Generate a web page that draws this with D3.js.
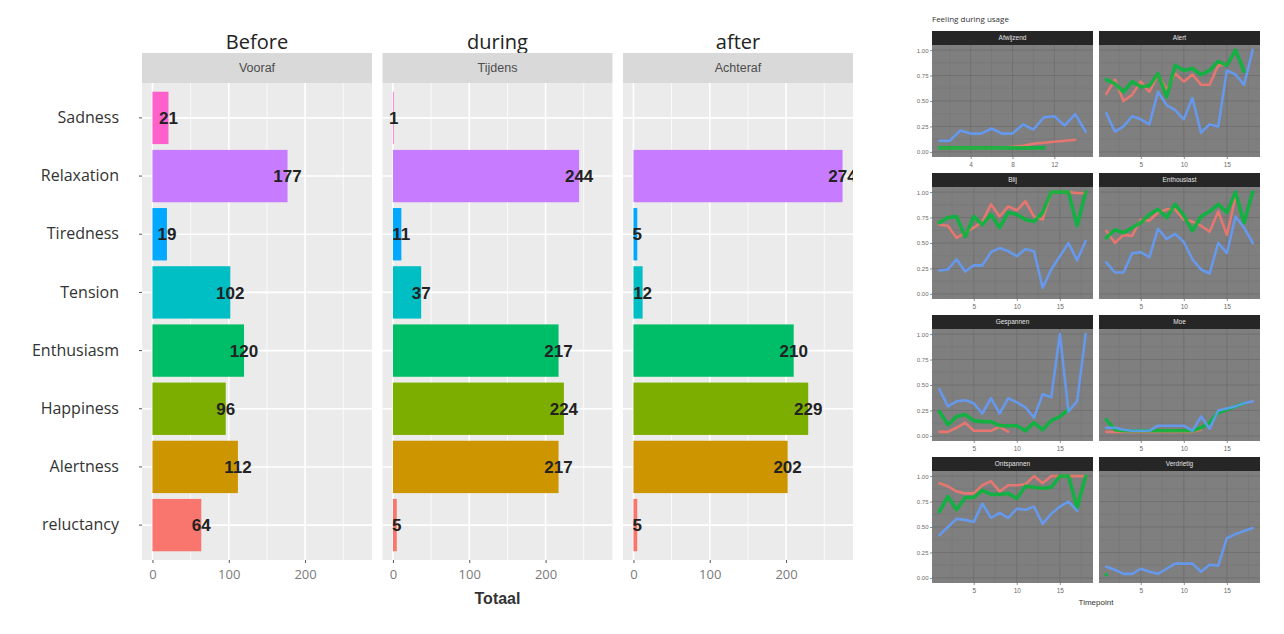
<!DOCTYPE html>
<html><head><meta charset="utf-8">
<script src="https://cdn.jsdelivr.net/npm/d3@7"></script>
<style>body{margin:0;background:#fff;} svg{display:block}</style>
</head><body>
<svg id="c" width="1284" height="634"></svg>
<script>
// ---------- Left chart data ----------
const categories = ["Sadness","Relaxation","Tiredness","Tension","Enthusiasm","Happiness","Alertness","reluctancy"];
const categoryColors = ["#FF61CC","#C77CFF","#00A9FF","#00BFC4","#00BE67","#7CAE00","#CD9600","#F8766D"];
const facetNames = ["Vooraf","Tijdens","Achteraf"];
const facetTitles = ["Before","during","after"];
const voorafCounts = [21,177,19,102,120,96,112,64];
const tijdensCounts = [1,244,11,37,217,224,217,5];
const achterafCounts = [null,274,5,12,210,229,202,5];
const countTicks = [0,100,200];
const countMinorTicks = [50,150,250];
const countAxisTitle = "Totaal";

// ---------- Right chart data ----------
const smallTitle = "Feeling during usage";
const timeAxisTitle = "Timepoint";
const feelingPanels = ["Afwijzend","Alert","Blij","Enthousiast","Gespannen","Moe","Ontspannen","Verdrietig"];
const lineSeries = ["Achteraf","Tijdens","Vooraf"];
const lineColors = ["#F8766D","#00BA38","#619CFF"];
const shareTicks = [0,0.25,0.5,0.75,1];
const shareTickLabels = ["0.00","0.25","0.50","0.75","1.00"];

const afwijzendRed   = [0.04,0.04,0.04,0.04,0.04,0.04,0.04,0.05,0.06,0.08,0.09,0.10,0.11,0.12];
const afwijzendGreen = [0.04,0.04,0.04,0.04,0.04,0.04,0.04,0.04,0.04,0.04,0.04];
const afwijzendBlue  = [0.11,0.11,0.21,0.18,0.18,0.23,0.18,0.18,0.27,0.22,0.34,0.35,0.26,0.37,0.20];

const alertRed   = [0.57,0.71,0.50,0.56,0.69,0.59,0.76,0.61,0.77,0.69,0.76,0.66,0.66,0.85,0.86];
const alertGreen = [0.71,0.67,0.59,0.69,0.64,0.65,0.77,0.54,0.85,0.80,0.82,0.76,0.80,0.89,0.85,1.00,0.79];
const alertBlue  = [0.38,0.20,0.25,0.35,0.32,0.27,0.59,0.46,0.41,0.32,0.53,0.19,0.27,0.25,0.80,0.76,0.66,1.00];

const blijRed   = [0.68,0.67,0.55,0.60,0.65,0.71,0.88,0.76,0.86,0.82,0.91,0.76,0.73,1.00,1.00,1.00,0.99,0.99];
const blijGreen = [0.70,0.75,0.76,0.56,0.76,0.68,0.78,0.65,0.80,0.78,0.73,0.71,0.80,1.00,1.00,1.00,0.67,1.00];
const blijBlue  = [0.23,0.24,0.34,0.22,0.28,0.28,0.41,0.45,0.42,0.37,0.44,0.42,0.06,0.24,0.37,0.50,0.33,0.52];

const enthousiastRed   = [0.62,0.50,0.58,0.57,0.73,0.72,0.80,0.83,0.83,0.73,0.71,0.67,0.61,0.81,0.58,0.95];
const enthousiastGreen = [0.55,0.63,0.60,0.65,0.70,0.78,0.83,0.75,0.88,0.77,0.62,0.76,0.81,0.88,0.80,1.00,0.70,1.00];
const enthousiastBlue  = [0.31,0.21,0.21,0.40,0.41,0.36,0.64,0.54,0.59,0.51,0.34,0.24,0.20,0.50,0.40,0.76,0.65,0.50];

const gespannenRed   = [0.04,0.04,0.08,0.13,0.05,0.05,0.05,0.09,0.04];
const gespannenGreen = [0.24,0.11,0.19,0.21,0.15,0.14,0.14,0.10,0.10,0.10,0.05,0.13,0.06,0.15,0.19,0.26];
const gespannenBlue  = [0.46,0.29,0.34,0.35,0.32,0.22,0.37,0.22,0.37,0.33,0.28,0.18,0.41,0.38,1.00,0.24,0.34,1.00];

const moeRed   = [0.04,0.04,0.04,0.04,0.04,0.04,0.04,0.04,0.04,0.04,0.04,0.06];
const moeGreen = [0.16,0.06,0.05,0.05,0.05,0.05,0.05,0.05,0.05,0.05,0.05,0.08,0.13,0.23,0.26,0.29,0.32];
const moeBlue  = [0.08,0.08,0.06,0.05,0.05,0.05,0.10,0.10,0.10,0.10,0.05,0.19,0.07,0.25,0.27,0.29,0.32,0.34];

const ontspannenRed   = [0.93,0.90,0.85,0.83,0.83,0.91,0.95,0.85,0.91,0.91,0.92,1.00,0.93,1.00,1.00,1.00,1.00,1.00];
const ontspannenGreen = [0.65,0.80,0.67,0.79,0.79,0.86,0.82,0.82,0.83,0.78,0.90,0.89,0.88,0.89,1.00,1.00,0.69,1.00];
const ontspannenBlue  = [0.42,0.50,0.58,0.57,0.55,0.73,0.59,0.64,0.59,0.68,0.67,0.70,0.53,0.63,0.70,0.75,0.66];

const verdrietigRed   = [];
const verdrietigGreen = [0.03];
const verdrietigBlue  = [0.11,0.08,0.04,0.04,0.09,0.06,0.04,0.09,0.14,0.14,0.14,0.06,0.13,0.12,0.39,0.43,0.46,0.49];

const panelSeries = [
  [afwijzendRed, afwijzendGreen, afwijzendBlue],
  [alertRed, alertGreen, alertBlue],
  [blijRed, blijGreen, blijBlue],
  [enthousiastRed, enthousiastGreen, enthousiastBlue],
  [gespannenRed, gespannenGreen, gespannenBlue],
  [moeRed, moeGreen, moeBlue],
  [ontspannenRed, ontspannenGreen, ontspannenBlue],
  [verdrietigRed, verdrietigGreen, verdrietigBlue]
];
const panelTimeTicks = [[4,8,12],[5,10,15],[5,10,15],[5,10,15],[5,10,15],[5,10,15],[5,10,15],[5,10,15]];

// ---------- Drawing ----------
const svg = d3.select("#c");
const facetCounts = [voorafCounts, tijdensCounts, achterafCounts];

// Left chart layout
const L = {left:142, top:83, bottom:560, width:230, gap:10.5, stripH:30};
const maxCount = d3.max(facetCounts.flat());
const pad = maxCount*0.05;
const x = d3.scaleLinear().domain([-pad, maxCount+pad]).range([0, L.width]);
const y = d3.scaleBand().domain(categories).range([L.top, L.bottom]).paddingInner(0.1).paddingOuter(0.15);

const defs = svg.append("defs");

facetNames.forEach((fname, fi) => {
  const px = L.left + fi*(L.width+L.gap);
  const g = svg.append("g").attr("transform", `translate(${px},0)`);
  defs.append("clipPath").attr("id","clip"+fi).append("rect")
    .attr("x",0).attr("y",L.top).attr("width",L.width).attr("height",L.bottom-L.top);
  g.append("text").attr("x",L.width/2).attr("y",49).attr("text-anchor","middle")
    .attr("font-family","Open Sans, sans-serif").attr("font-size",20).attr("fill","#222").text(facetTitles[fi]);
  g.append("rect").attr("x",0).attr("y",L.top-L.stripH).attr("width",L.width).attr("height",L.stripH).attr("fill","#D9D9D9");
  g.append("text").attr("x",L.width/2).attr("y",L.top-L.stripH/2).attr("dy","0.35em").attr("text-anchor","middle")
    .attr("font-family","Liberation Sans, Arial, sans-serif").attr("font-size",12.5).attr("fill","#4d4d4d").text(fname);
  g.append("rect").attr("x",0).attr("y",L.top).attr("width",L.width).attr("height",L.bottom-L.top).attr("fill","#EBEBEB");
  const pg = g.append("g").attr("clip-path",`url(#clip${fi})`);
  countMinorTicks.forEach(t => pg.append("line").attr("x1",x(t)).attr("x2",x(t)).attr("y1",L.top).attr("y2",L.bottom).attr("stroke","#fff").attr("stroke-width",0.8));
  countTicks.forEach(t => pg.append("line").attr("x1",x(t)).attr("x2",x(t)).attr("y1",L.top).attr("y2",L.bottom).attr("stroke","#fff").attr("stroke-width",1.6));
  categories.forEach(c => pg.append("line").attr("x1",0).attr("x2",L.width).attr("y1",y(c)+y.bandwidth()/2).attr("y2",y(c)+y.bandwidth()/2).attr("stroke","#fff").attr("stroke-width",1.6));
  const vals = facetCounts[fi];
  categories.forEach((c, ci) => {
    const v = vals[ci];
    if (v == null) return;
    pg.append("rect").attr("x",x(0)).attr("y",y(c)).attr("width",Math.max(0.6, x(v)-x(0))).attr("height",y.bandwidth()).attr("fill",categoryColors[ci]);
  });
  categories.forEach((c, ci) => {
    const v = vals[ci];
    if (v == null) return;
    pg.append("text").attr("x",x(v)).attr("y",y(c)+y.bandwidth()/2).attr("dy","0.36em").attr("text-anchor","middle")
      .attr("font-family","Liberation Sans, Arial, sans-serif").attr("font-size",17).attr("fill","#222").attr("font-weight","bold").text(v);
  });
  const ax = g.append("g").attr("transform",`translate(0,${L.bottom})`)
    .call(d3.axisBottom(x).tickValues(countTicks).tickSize(3).tickPadding(7));
  ax.select(".domain").remove();
  ax.selectAll("line").attr("stroke","#555");
  ax.selectAll("text").attr("font-family","Open Sans, sans-serif").attr("font-size",13).attr("fill","#7a7a7a");
});

const ay = svg.append("g").attr("transform",`translate(${L.left},0)`)
  .call(d3.axisLeft(y).tickSize(3).tickPadding(20));
ay.select(".domain").remove();
ay.selectAll("line").attr("stroke","#555");
ay.selectAll("text").attr("font-family","Open Sans, sans-serif").attr("font-size",16).attr("fill","#333");

svg.append("text").attr("x",L.left + 1.5*L.width + L.gap).attr("y",604).attr("text-anchor","middle")
  .attr("font-family","Liberation Sans, Arial, sans-serif").attr("font-size",16).attr("font-weight","bold").attr("fill","#333").text(countAxisTitle);

// Right chart
const R = {cols:[932,1099], rows:[45,187,329,471], w:161, h:112, stripH:14};
svg.append("text").attr("x",932).attr("y",22).attr("font-family","Open Sans, sans-serif").attr("font-size",8).attr("fill","#333").text(smallTitle);
const ys = d3.scaleLinear().domain([-0.05,1.05]).range([R.h,0]);

feelingPanels.forEach((name, pi) => {
  const col = pi % 2, row = Math.floor(pi/2);
  const g = svg.append("g").attr("transform",`translate(${R.cols[col]},${R.rows[row]})`);
  const series = panelSeries[pi];
  const n = d3.max(series, s => s.length);
  const ex = (n-1)*0.05;
  const xs = d3.scaleLinear().domain([1-ex, n+ex]).range([0,R.w]);
  g.append("rect").attr("x",0).attr("y",-R.stripH).attr("width",R.w).attr("height",R.stripH).attr("fill","#262626");
  g.append("text").attr("x",R.w/2).attr("y",-R.stripH/2).attr("dy","0.35em").attr("text-anchor","middle")
    .attr("font-family","Liberation Sans, Arial, sans-serif").attr("font-size",6.5).attr("fill","#e5e5e5").text(name);
  g.append("rect").attr("width",R.w).attr("height",R.h).attr("fill","#7f7f7f");
  const ticks = panelTimeTicks[pi];
  const step = ticks[1]-ticks[0];
  const minor = d3.range(ticks[0]-step/2, n+ex, step).filter(t => t > 1-ex);
  minor.forEach(t => g.append("line").attr("x1",xs(t)).attr("x2",xs(t)).attr("y1",0).attr("y2",R.h).attr("stroke","#727272").attr("stroke-width",0.4));
  d3.range(0.125,1.05,0.25).forEach(t => g.append("line").attr("x1",0).attr("x2",R.w).attr("y1",ys(t)).attr("y2",ys(t)).attr("stroke","#727272").attr("stroke-width",0.4));
  ticks.forEach(t => g.append("line").attr("x1",xs(t)).attr("x2",xs(t)).attr("y1",0).attr("y2",R.h).attr("stroke","#6b6b6b").attr("stroke-width",0.7));
  shareTicks.forEach(t => g.append("line").attr("x1",0).attr("x2",R.w).attr("y1",ys(t)).attr("y2",ys(t)).attr("stroke","#6b6b6b").attr("stroke-width",0.7));
  const widths = [2.6,3.6,2.6];
  series.forEach((vals, si) => {
    const pts = vals.map((v,i) => [i+1, v]);
    if (pts.length === 1) {
      g.append("circle").attr("cx",xs(pts[0][0])).attr("cy",ys(pts[0][1])).attr("r",1.8).attr("fill",lineColors[si]).attr("opacity",0.85);
    } else if (pts.length > 1) {
      const line = d3.line().defined(d => d[1] != null).x(d => xs(d[0])).y(d => ys(d[1]));
      g.append("path").attr("d",line(pts)).attr("fill","none").attr("stroke",lineColors[si])
        .attr("stroke-width",widths[si]).attr("stroke-linejoin","round").attr("stroke-linecap","round").attr("opacity",0.85);
    }
  });
  const ax = g.append("g").attr("transform",`translate(0,${R.h})`).call(d3.axisBottom(xs).tickValues(ticks).tickSize(2).tickPadding(3));
  ax.select(".domain").remove();
  ax.selectAll("line").attr("stroke","#444").attr("stroke-width",0.6);
  ax.selectAll("text").attr("font-family","Liberation Sans, Arial, sans-serif").attr("font-size",6.5).attr("fill","#6a6a6a");
  if (col === 0) {
    const ayr = g.append("g").call(d3.axisLeft(ys).tickValues(shareTicks).tickFormat((d,i)=>shareTickLabels[i]).tickSize(2).tickPadding(1.5));
    ayr.select(".domain").remove();
    ayr.selectAll("line").attr("stroke","#444").attr("stroke-width",0.6);
    ayr.selectAll("text").attr("font-family","Liberation Sans, Arial, sans-serif").attr("font-size",6).attr("fill","#6a6a6a");
  }
});
svg.append("text").attr("x",(R.cols[0]+R.cols[1]+R.w)/2).attr("y",605).attr("text-anchor","middle")
  .attr("font-family","Liberation Sans, Arial, sans-serif").attr("font-size",8).attr("fill","#333").text(timeAxisTitle);
</script>
</body></html>
